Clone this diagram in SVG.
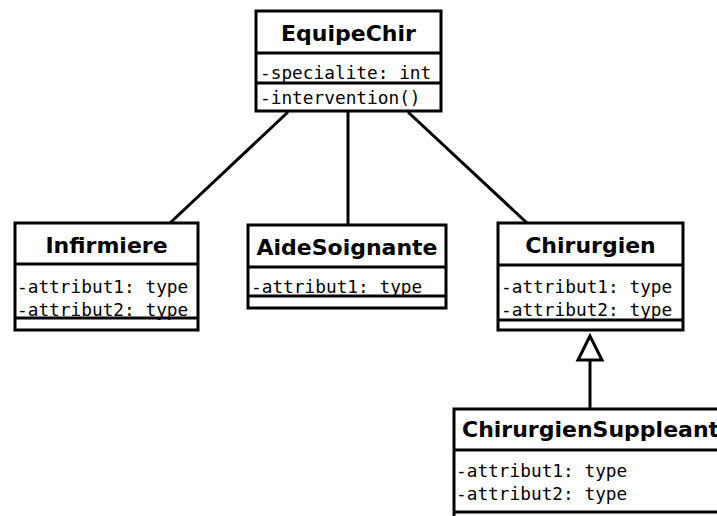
<svg xmlns="http://www.w3.org/2000/svg" width="717" height="516" viewBox="0 0 717 516">
  <style>
    .box { fill: #ffffff; stroke: #000000; stroke-width: 3; }
    .sep { stroke: #000000; stroke-width: 3; fill: none; }
    .title { font-family: "DejaVu Sans", sans-serif; font-weight: bold; font-size: 22px; fill: #000; text-anchor: middle; }
    .attr { font-family: "DejaVu Sans Mono", monospace; font-size: 17.8px; fill: #000; }
    .link { stroke: #000000; stroke-width: 3; fill: none; }
  </style>
  <rect width="717" height="516" fill="#ffffff"/>

  <g id="connectors">
    <line class="link" x1="288" y1="112" x2="170" y2="223"/>
    <line class="link" x1="348" y1="112" x2="348" y2="225"/>
    <line class="link" x1="408" y1="112" x2="527" y2="223"/>
    <line class="link" x1="590" y1="360" x2="590" y2="409"/>
    <polygon points="590,336 578,360 602,360" fill="#ffffff" stroke="#000000" stroke-width="3" stroke-linejoin="miter"/>
  </g>

  <g id="EquipeChir">
    <rect class="box" x="256" y="11" width="185" height="100"/>
    <line class="sep" x1="256" y1="53" x2="441" y2="53"/>
    <line class="sep" x1="256" y1="83" x2="441" y2="83"/>
    <text class="title" x="348.5" y="41">EquipeChir</text>
    <text class="attr" x="260" y="79">-specialite: int</text>
    <text class="attr" x="260" y="104">-intervention()</text>
  </g>

  <g id="Infirmiere">
    <rect class="box" x="15" y="223" width="183" height="107"/>
    <line class="sep" x1="15" y1="264" x2="198" y2="264"/>
    <line class="sep" x1="15" y1="318" x2="198" y2="318"/>
    <text class="title" x="106.5" y="253">Infirmiere</text>
    <text class="attr" x="17" y="293">-attribut1: type</text>
    <text class="attr" x="17" y="316">-attribut2: type</text>
  </g>

  <g id="AideSoignante">
    <rect class="box" x="248" y="225" width="198" height="83"/>
    <line class="sep" x1="248" y1="267" x2="446" y2="267"/>
    <line class="sep" x1="248" y1="296" x2="446" y2="296"/>
    <text class="title" x="347" y="255">AideSoignante</text>
    <text class="attr" x="251" y="293">-attribut1: type</text>
  </g>

  <g id="Chirurgien">
    <rect class="box" x="498" y="223" width="185" height="107"/>
    <line class="sep" x1="498" y1="265" x2="683" y2="265"/>
    <line class="sep" x1="498" y1="320" x2="683" y2="320"/>
    <text class="title" x="590.5" y="253">Chirurgien</text>
    <text class="attr" x="501" y="293">-attribut1: type</text>
    <text class="attr" x="501" y="316">-attribut2: type</text>
  </g>

  <g id="ChirurgienSuppleant">
    <rect class="box" x="454" y="409" width="290" height="120"/>
    <line class="sep" x1="454" y1="450" x2="744" y2="450"/>
    <line class="sep" x1="454" y1="512" x2="744" y2="512"/>
    <text class="title" x="462" y="437" style="text-anchor:start">ChirurgienSuppleant</text>
    <text class="attr" x="456" y="477">-attribut1: type</text>
    <text class="attr" x="456" y="500">-attribut2: type</text>
  </g>
</svg>
